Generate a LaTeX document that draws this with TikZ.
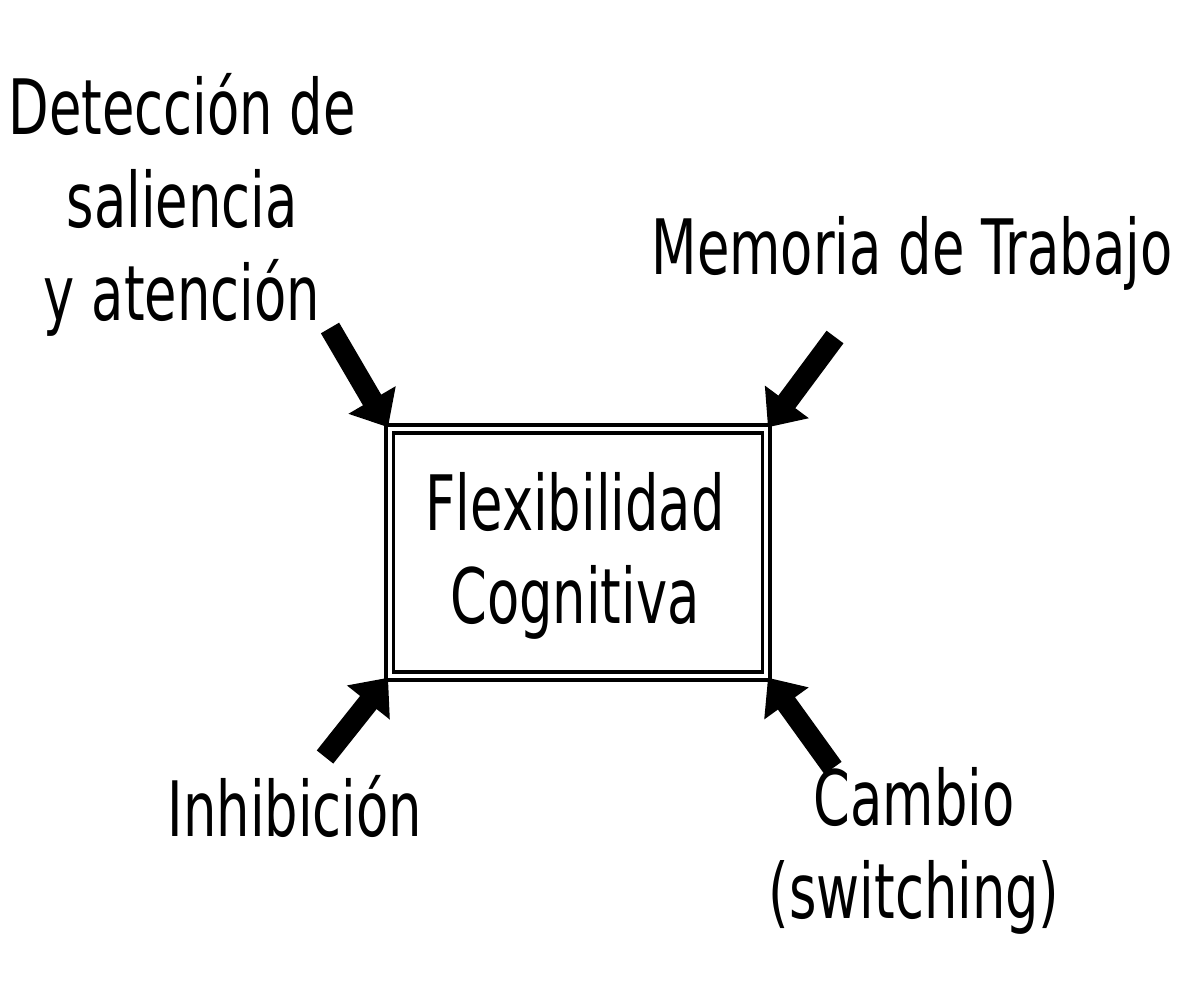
\documentclass[tikz,border=0pt]{standalone}
\usepackage{fontspec}
\setmainfont{DejaVu Sans}
\usepackage{tikz}
\usetikzlibrary{arrows.meta, positioning}

\begin{document}
\begin{tikzpicture}[
          x=0.02cm, y=-0.02cm,
          lbl/.style={font=\fontsize{30pt}{36.5pt}\selectfont, yscale=1.45, transform shape, align=center, inner sep=0pt},
          box/.style={draw, double, line width=2pt, double distance=2.4pt, minimum width=7.53cm, minimum height=4.94cm, inner sep=0pt},
          arrow/.style={-{Triangle[width=30pt, length=18pt]}, line width=12pt}
        ]
          \useasboundingbox (0,0) rectangle (1195,987);
          \node[box] (flex) at (578,552.5) {};
          \node[lbl] (flextxt) at (575,556) {Flexibilidad\\Cognitiva};
          \node[lbl] (sal) at (182,205) {Detección de\\saliencia\\y atención};
          \node[lbl] (mem) at (912,253) {Memoria de Trabajo};
          \node[lbl] (inh) at (295,806) {Inhibición};
          \node[lbl] (cam) at (914,851) {Cambio\\(switching)};
          \coordinate (salTail) at (330,328);
          \coordinate (memTail) at (835,337);
          \coordinate (inhTail) at (325,757);
          \coordinate (camTail) at (833,768);
          \draw[arrow] (salTail) -- (flex.north west);
          \draw[arrow] (memTail) -- (flex.north east);
          \draw[arrow] (inhTail) -- (flex.south west);
          \draw[arrow] (camTail) -- (flex.south east);
        \end{tikzpicture}
\end{document}
